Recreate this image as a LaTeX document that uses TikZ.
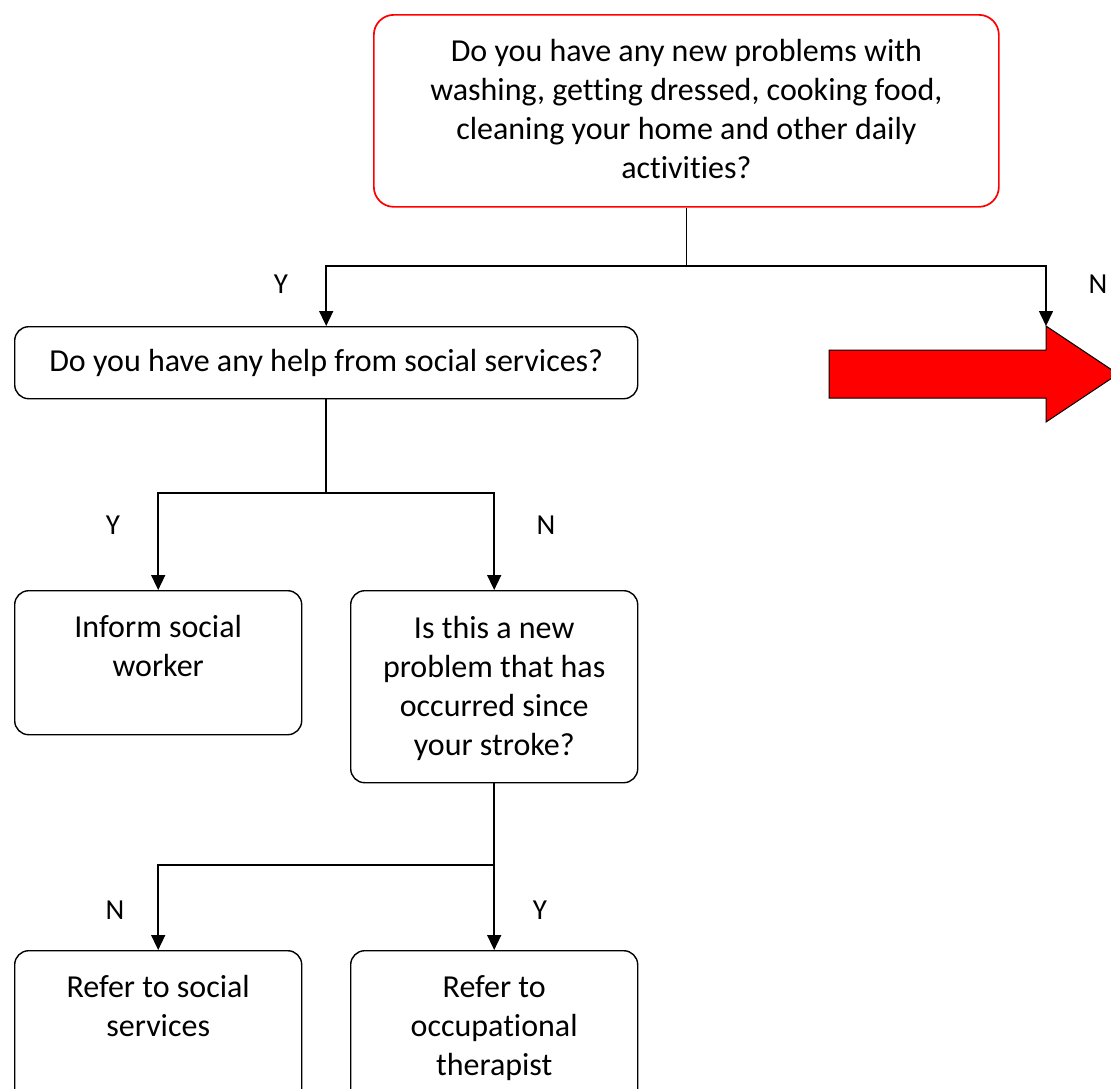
\documentclass[tikz,border=0pt]{standalone}
\usepackage{fontspec}
\setmainfont{Carlito}[Ligatures=NoCommon]
\usetikzlibrary{arrows.meta}
\begin{document}
\begin{tikzpicture}[x=1pt,y=-1pt,
  box/.style={draw, line width=1.4pt, rounded corners=14pt, inner sep=0pt, anchor=north west},
  bodytext/.style={font=\fontsize{32}{39}\selectfont},
  qtext/.style={bodytext, align=center, inner sep=0pt, anchor=north},
  link/.style={line width=1.6pt},
  flow/.style={link, -{Triangle[length=15pt,width=14pt]}},
  yn/.style={font=\fontsize{29}{34}\selectfont, inner sep=0pt}]
\useasboundingbox (0,0) rectangle (1111,1088);
\clip (0,0) rectangle (1111,1088);

% question and action boxes
\node[box, draw=red, line width=1.7pt, rounded corners=20pt,
      minimum width=625pt, minimum height=192pt] (q1) at (373,14) {};
\node[qtext] (t1) at ([yshift=-20pt]q1.north)
  {\strut Do you have any new problems with\\washing, getting dressed, cooking food,\\cleaning your home and other daily\\activities?};

\node[box, bodytext, minimum width=623pt, minimum height=72pt] (q2) at (14,326)
  {Do you have any help from social services?};

\node[box, minimum width=287pt, minimum height=144pt] (inform) at (14,590) {};
\node[qtext] (t3) at ([yshift=-20pt]inform.north) {\strut Inform social\\worker};

\node[box, minimum width=287pt, minimum height=192pt] (q3) at (350,590) {};
\node[qtext] (t4) at ([yshift=-21pt]q3.north)
  {\strut Is this a new\\problem that has\\occurred since\\your stroke?};

\node[box, minimum width=287pt, minimum height=160pt] (refss) at (14,950) {};
\node[qtext] (t5) at ([yshift=-20pt]refss.north) {\strut Refer to social\\services};

\node[box, minimum width=287pt, minimum height=160pt] (refot) at (350,950) {};
\node[qtext] (t6) at ([yshift=-20pt]refot.north) {\strut Refer to\\occupational\\therapist};

% big red arrow for the "no" branch
\coordinate (arrowtop) at (1046,326);
\draw[fill=red, line width=1pt, line join=miter]
  (829,350) -- (1046,350) -- (arrowtop) -- (1118,374) -- (1046,422)
  -- (1046,398) -- (829,398) -- cycle;

% connectors
\coordinate (j1) at (q1.south |- 0,266);
\draw[link] (q1.south) -- (j1);
\draw[flow] (j1) -| (q2.north);
\draw[flow] (j1) -| (arrowtop);

\coordinate (j2) at (q2.south |- 0,493);
\draw[link] (q2.south) -- (j2);
\draw[flow] (j2) -| (inform.north);
\draw[flow] (j2) -| (q3.north);

\coordinate (j3) at (q3.south |- 0,865);
\draw[link] (q3.south) -- (j3);
\draw[flow] (j3) -| (refss.north);
\draw[flow] (j3) -| (refot.north);

% branch labels
\node[yn] (y1) at (281,284) {Y};
\node[yn] (n1) at (1098,284) {N};
\node[yn] (y2) at (113,525) {Y};
\node[yn] (n2) at (546,525) {N};
\node[yn] (n3) at (115,910) {N};
\node[yn] (y3) at (540,910) {Y};
\end{tikzpicture}
\end{document}
